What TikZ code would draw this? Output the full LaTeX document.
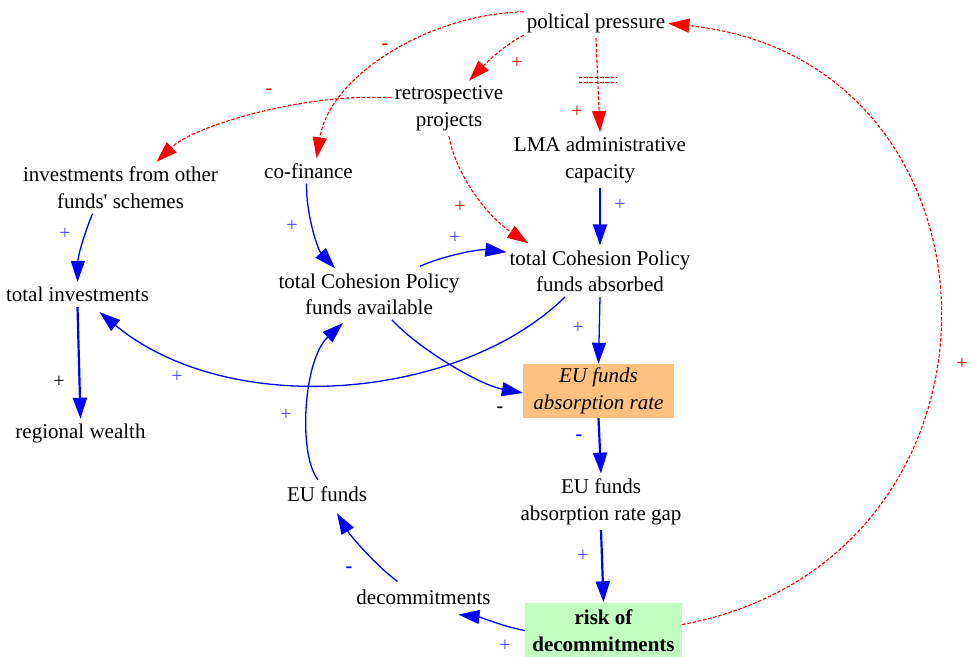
\documentclass[tikz,border=0pt]{standalone}
\usepackage{fontspec}
\setmainfont{Liberation Serif}
\usetikzlibrary{arrows.meta}
\definecolor{ratefill}{RGB}{255,192,128}
\definecolor{riskfill}{RGB}{192,255,192}
\definecolor{signblue}{RGB}{70,70,255}
\newcommand\nodefont{\fontsize{21}{26.5}\selectfont}
\newcommand\signfont{\fontsize{20}{20}\selectfont}
\begin{document}
\begin{tikzpicture}[x=1pt,y=-1pt,
  txt/.style={font=\nodefont, align=center, inner xsep=3pt, inner ysep=5pt},
  ratebox/.style={txt, fill=ratefill, font=\nodefont\itshape, minimum width=151pt, minimum height=54pt, inner sep=0pt},
  riskbox/.style={txt, fill=riskfill, font=\nodefont\bfseries, minimum width=157pt, minimum height=56pt, inner sep=0pt},
  tip/.style={-{Triangle[length=21pt,width=14pt]}},
  blueln/.style={draw=blue, line width=1.3pt, tip},
  bluethick/.style={draw=blue, line width=2.2pt, tip},
  redln/.style={draw=red, line width=1.1pt, dash pattern=on 3.5pt off 1.8pt, tip},
  delaybar/.style={draw=red, line width=1.1pt, dash pattern=on 3.5pt off 1.8pt},
  plusb/.style={font=\signfont, text=signblue, inner sep=0pt},
  plusr/.style={font=\signfont, text=red, inner sep=0pt},
  plusk/.style={font=\signfont, text=black, inner sep=0pt},
  minus/.style={font=\signfont\bfseries, inner sep=0pt},
]

% variables
\node[txt] (pp)     at (596,23.5)  {poltical pressure};
\node[txt] (retro)  at (449,108.4) {retrospective\\projects};
\node[txt] (lma)    at (600,160)   {LMA administrative\\capacity};
\node[txt] (inv)    at (120.5,187.8) {investments from other\\funds\textquotesingle{} schemes};
\node[txt] (cof)    at (308.5,171) {co-finance};
\node[txt] (avail)  at (369,294.1) {total Cohesion Policy\\funds available};
\node[txt] (abs)    at (600,271.1) {total Cohesion Policy\\funds absorbed};
\node[txt] (totinv) at (77.5,294.5) {total investments};
\node[txt] (wealth) at (80.5,433.5) {regional wealth};
\node[ratebox] (rate) at (598.5,391) {EU funds\\absorption rate};
\node[txt] (gap)    at (601,501.7) {EU funds\\absorption rate gap};
\node[txt] (euf)    at (327,494.5) {EU funds};
\node[txt] (dec)    at (423.5,597) {decommitments};
\node[riskbox] (risk) at (603.5,630.5) {risk of\\decommitments};

% political pressure links (dashed)
\draw[redln] ([yshift=3]pp.south west) .. controls (506,44) and (487,62) .. ([xshift=20]retro.north);
\draw[redln] ([yshift=-3]pp.north west) .. controls (430,14) and (330,75) .. ([xshift=8]cof.north);
\draw[redln] (pp.south) -- coordinate[pos=0.45] (dly) (lma.north);
\draw[delaybar] ([shift={(-19,-2.5)}]dly) -- ([shift={(19,-2.5)}]dly);
\draw[delaybar] ([shift={(-19,2.5)}]dly) -- ([shift={(19,2.5)}]dly);
\draw[redln] ([yshift=11]retro.west) -- ++(-18,0) .. controls (300,96) and (195,125) .. ([xshift=36]inv.north);
\draw[redln] (retro.south) .. controls (455,172) and (485,215) .. ([xshift=22,yshift=2]abs.north west);
\draw[redln] ([yshift=6]risk.east) .. controls (1032,560) and (1022,60) .. (pp.east);

% funds flows
\draw[bluethick] (lma.south) -- (abs.north);
\draw[blueln] ([xshift=-2]cof.south) .. controls (306,215) and (318,250) .. ([xshift=-34]avail.north);
\draw[blueln] ([xshift=51,yshift=2]avail.north) .. controls (445,255) and (480,249) .. ([yshift=19]abs.west);
\draw[blueln] (abs.south) -- (rate.north);
\draw[blueln] ([xshift=-35]abs.south) .. controls (460,400) and (230,420) .. ([xshift=22,yshift=-5]totinv.south);
\draw[blueln] ([xshift=23]avail.south) .. controls (420,350) and (480,385) .. ([yshift=-2]rate.west);
\draw[blueln] ([xshift=-28]inv.south) .. controls (85,232) and (78,255) .. (totinv.north);
\draw[bluethick] (totinv.south) -- (wealth.north);
\draw[bluethick] (rate.south) -- (gap.north);
\draw[bluethick] (gap.south) -- (risk.north);
\draw[blueln] (risk.west) .. controls (505,627) and (480,617) .. ([xshift=35,yshift=-5]dec.south);
\draw[blueln] ([xshift=-26,yshift=3]dec.north) .. controls (375,565) and (350,535) .. ([xshift=10,yshift=-6]euf.south);
\draw[blueln] ([xshift=-9,yshift=2]euf.north) .. controls (298,455) and (303,360) .. ([xshift=-26,yshift=-3]avail.south);

% link polarities
\node[plusr] (s1)  at (517,63)  {+};
\node[minus, text=red] (s2) at (385,47) {-};
\node[plusr] (s3)  at (577,112) {+};
\node[minus, text=red] (s4) at (269,92) {-};
\node[plusr] (s5)  at (460,207) {+};
\node[plusb] (s6)  at (620,205) {+};
\node[plusb] (s7)  at (292,226) {+};
\node[plusb] (s8)  at (455,238) {+};
\node[plusb] (s9)  at (578,328) {+};
\node[plusb] (s10) at (177,377) {+};
\node[minus, text=black] (s11) at (500,410) {-};
\node[plusb] (s12) at (65,234)  {+};
\node[plusk] (s13) at (59,382)  {+};
\node[plusb] (s14) at (286,415) {+};
\node[minus, text=blue] (s15) at (579,438) {-};
\node[plusb] (s16) at (583,556) {+};
\node[plusb] (s17) at (505,646) {+};
\node[minus, text=blue] (s18) at (349,570) {-};
\node[plusr] (s19) at (962,364) {+};

\pgfresetboundingbox
\useasboundingbox (0,0) rectangle (973,656);
\end{tikzpicture}
\end{document}
